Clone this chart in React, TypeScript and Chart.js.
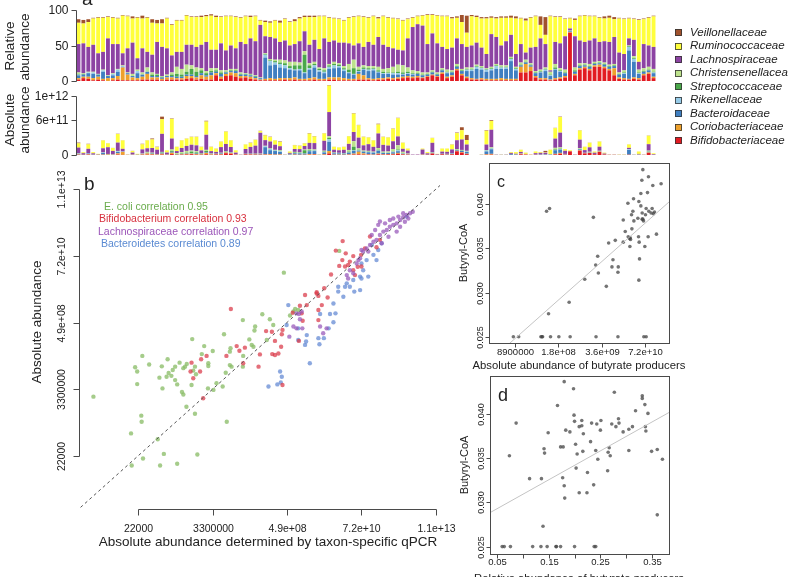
import { useEffect, useRef } from "react";
import { Chart, registerables } from "chart.js";

Chart.register(...registerables);

const PAGE_W = 788;
const PAGE_H = 577;
const FONT = '"Liberation Sans", Arial, Helvetica, sans-serif';
const INK = "#222222";
const AXIS = "#4a4a4a";

// ================= Panel a : family composition per sample =================
const familyNames = [
  "Bifidobacteriaceae",
  "Coriobacteriaceae",
  "Bacteroidaceae",
  "Rikenellaceae",
  "Streptococcaceae",
  "Christensenellaceae",
  "Lachnospiraceae",
  "Ruminococcaceae",
  "Veillonellaceae",
];
const familyColors = [
  "#e21b22",
  "#eea12c",
  "#3f7fc1",
  "#96cbe8",
  "#4aa84a",
  "#bde28c",
  "#8d43a3",
  "#ffff3c",
  "#a0522d",
];

// relative abundance (%) per sample
const bifidobacteriaceae = [
  2, 4, 3, 1, 2, 1, 0, 1, 2, 1,
  1, 1, 1, 2, 2, 2, 2, 1, 2, 2,
  2, 2, 3, 4, 2, 3, 2, 2, 8, 3,
  7, 8, 6, 4, 5, 3, 2, 1, 1, 1,
  1, 1, 2, 1, 2, 1, 1, 1, 2, 1,
  1, 2, 2, 1, 1, 1, 1, 2, 2, 2,
  1, 2, 2, 3, 2, 3, 4, 5, 4, 5,
  4, 6, 8, 6, 10, 4, 6, 15, 8, 4,
  2, 2, 2, 1, 1, 1, 1, 1, 1, 1,
  12, 12, 14, 5, 2, 2, 1, 2, 3, 5,
  68, 8, 16, 18, 15, 20, 20, 18, 15, 8,
  3, 2, 2, 3, 2, 8, 10, 4,
];
const coriobacteriaceae = [
  2, 2, 3, 3, 4, 2, 4, 3, 5, 18,
  8, 4, 3, 4, 8, 3, 3, 2, 3, 3,
  2, 2, 4, 3, 3, 5, 4, 6, 3, 3,
  3, 4, 5, 3, 2, 3, 2, 1, 2, 3,
  2, 3, 2, 3, 3, 2, 2, 3, 3, 2,
  2, 3, 3, 4, 3, 2, 2, 8, 6, 2,
  2, 2, 2, 2, 2, 2, 2, 2, 2, 2,
  1, 1, 1, 1, 2, 2, 2, 2, 2, 2,
  2, 1, 2, 2, 2, 2, 3, 2, 2, 2,
  8, 12, 6, 2, 2, 2, 1, 2, 2, 2,
  1, 2, 2, 2, 2, 2, 3, 2, 2, 10,
  2, 2, 1, 2, 2, 2, 2, 2,
];
const bacteroidaceae = [
  4, 3, 5, 6, 3, 10, 3, 4, 6, 1,
  2, 2, 7, 3, 3, 2, 2, 2, 2, 2,
  2, 2, 2, 2, 2, 3, 2, 4, 2, 4,
  2, 2, 3, 2, 2, 2, 2, 2, 30, 18,
  20, 15, 14, 12, 10, 12, 8, 12, 14, 10,
  8, 12, 13, 14, 10, 8, 6, 3, 8, 10,
  12, 8, 6, 5, 5, 4, 3, 3, 3, 3,
  3, 2, 3, 2, 3, 5, 4, 3, 4, 8,
  10, 14, 12, 10, 12, 14, 13, 14, 25, 12,
  2, 2, 2, 4, 8, 10, 5, 12, 8, 4,
  1, 3, 3, 2, 3, 2, 2, 3, 3, 3,
  4, 6, 40, 22, 6, 3, 3, 5,
];
const rikenellaceae = [
  1, 0, 1, 2, 0, 2, 0, 2, 3, 1,
  0, 0, 3, 0, 0, 0, 0, 0, 0, 0,
  0, 0, 0, 0, 0, 0, 0, 0, 0, 0,
  0, 0, 0, 0, 0, 0, 0, 0, 4, 6,
  3, 5, 4, 2, 1, 2, 1, 2, 3, 2,
  2, 3, 4, 2, 2, 1, 1, 1, 1, 2,
  2, 1, 1, 1, 2, 2, 1, 1, 1, 0,
  0, 0, 0, 0, 0, 1, 0, 0, 0, 2,
  2, 3, 2, 3, 2, 4, 2, 2, 3, 2,
  0, 0, 0, 0, 1, 2, 1, 1, 1, 0,
  0, 0, 0, 0, 0, 0, 0, 0, 0, 0,
  0, 1, 5, 4, 1, 0, 0, 1,
];
const streptococcaceae = [
  1, 1, 0, 0, 0, 0, 0, 0, 0, 0,
  0, 0, 0, 0, 0, 2, 2, 1, 0, 2,
  4, 3, 4, 8, 6, 4, 3, 2, 2, 2,
  1, 1, 1, 1, 1, 1, 1, 0, 1, 1,
  2, 2, 3, 3, 6, 5, 25, 4, 2, 2,
  2, 2, 2, 2, 2, 4, 8, 2, 2, 2,
  1, 2, 2, 1, 1, 2, 2, 2, 1, 1,
  1, 1, 1, 1, 1, 1, 1, 1, 1, 1,
  1, 1, 1, 1, 1, 1, 1, 1, 1, 1,
  1, 1, 1, 1, 1, 1, 1, 2, 1, 1,
  0, 2, 1, 1, 1, 1, 1, 1, 1, 1,
  1, 1, 1, 1, 1, 1, 1, 1,
];
const christensenellaceae = [
  2, 1, 1, 1, 1, 1, 1, 1, 1, 1,
  1, 3, 2, 3, 6, 3, 1, 1, 2, 3,
  10, 8, 10, 5, 6, 3, 3, 4, 3, 3,
  2, 2, 2, 2, 1, 1, 1, 1, 1, 2,
  2, 4, 4, 6, 5, 4, 5, 3, 3, 2,
  3, 2, 3, 2, 3, 8, 12, 4, 3, 3,
  3, 5, 4, 6, 8, 10, 10, 6, 4, 3,
  3, 2, 2, 2, 2, 3, 2, 3, 2, 2,
  2, 2, 2, 1, 2, 2, 2, 2, 2, 2,
  3, 3, 2, 2, 2, 2, 4, 5, 3, 4,
  1, 4, 3, 2, 3, 2, 2, 2, 2, 2,
  2, 3, 1, 3, 4, 4, 4, 4,
];
const lachnospiraceae = [
  40, 42, 35, 38, 29, 25, 52, 41, 35, 17,
  34, 44, 16, 34, 22, 25, 45, 41, 37, 24,
  21, 24, 28, 29, 29, 33, 41, 26, 26, 38,
  28, 33, 29, 43, 41, 50, 48, 74, 24, 31,
  30, 25, 28, 23, 25, 30, 28, 26, 31, 26,
  42, 31, 30, 29, 33, 29, 20, 33, 26, 34,
  30, 42, 34, 30, 26, 21, 21, 41, 61, 66,
  66, 40, 52, 41, 30, 29, 32, 36, 35, 29,
  31, 31, 26, 20, 46, 38, 28, 34, 31, 18,
  26, 10, 22, 34, 44, 33, 2, 31, 35, 47,
  3, 44, 32, 30, 33, 33, 27, 30, 32, 38,
  28, 23, 10, 23, 11, 34, 30, 31,
];
const ruminococcaceae = [
  30, 28, 35, 37, 50, 48, 30, 37, 36, 53,
  45, 34, 57, 42, 48, 45, 26, 33, 42, 43,
  44, 44, 41, 39, 42, 39, 36, 48, 46, 37,
  48, 41, 44, 34, 39, 30, 35, 6, 20, 20,
  25, 27, 30, 33, 32, 32, 20, 39, 32, 46,
  31, 34, 31, 33, 31, 36, 40, 38, 42, 34,
  40, 26, 40, 41, 42, 43, 42, 27, 13, 11,
  14, 41, 26, 39, 43, 46, 41, 29, 31, 20,
  41, 36, 41, 50, 23, 26, 39, 33, 24, 50,
  36, 45, 42, 43, 19, 13, 76, 35, 37, 24,
  14, 23, 34, 37, 34, 31, 34, 32, 34, 25,
  48, 49, 28, 29, 59, 35, 39, 43,
];
const veillonellaceae = [
  5, 5, 4, 1, 1, 1, 1, 1, 1, 1,
  1, 3, 1, 4, 1, 5, 5, 6, 1, 1,
  1, 1, 1, 1, 1, 2, 2, 2, 2, 1,
  1, 1, 1, 1, 1, 2, 1, 1, 2, 2,
  1, 3, 1, 1, 3, 2, 2, 2, 2, 1,
  1, 1, 1, 1, 1, 1, 1, 1, 1, 1,
  1, 2, 1, 1, 1, 1, 1, 1, 1, 1,
  1, 1, 1, 1, 1, 1, 2, 2, 10, 24,
  2, 2, 2, 2, 2, 2, 2, 2, 3, 3,
  1, 3, 1, 1, 12, 25, 1, 1, 1, 1,
  1, 2, 1, 1, 1, 1, 1, 3, 3, 3,
  1, 1, 1, 1, 1, 1, 1, 1,
];
// absolute abundance of the shown families per sample (x 1e11 cells)
const absoluteShownE11 = [
  2.1, 0.5, 1.9, 0.5, 0.2, 2.5, 2.0, 1.2, 3.6, 2.5,
  0.1, 0.7, 0.2, 1.9, 2.5, 2.8, 1.4, 6.5, 0.8, 6.2,
  1.4, 2.5, 2.8, 3.1, 3.1, 1.4, 5.8, 1.4, 1.1, 2.3,
  4.0, 2.5, 0.8, 0.1, 1.8, 2.1, 2.6, 4.1, 3.4, 3.1,
  2.5, 2.3, 0.1, 0.6, 1.7, 1.6, 2.0, 3.7, 3.2, 0.1,
  3.7, 11.9, 1.4, 1.3, 1.4, 3.2, 7.1, 5.1, 3.1, 3.0,
  2.5, 5.3, 3.1, 3.0, 4.5, 6.3, 2.1, 1.1, 0.1, 0.1,
  1.1, 0.5, 2.9, 0.2, 1.1, 1.1, 1.8, 3.8, 4.7, 3.4,
  0, 0, 0.1, 4.2, 5.9, 0.1, 0.1, 0.1, 0.5, 0.5,
  0.9, 0.4, 0.1, 0.6, 0.5, 0.7, 0.9, 4.6, 6.5, 1.0,
  0.8, 0.1, 4.2, 1.4, 2.1, 0.6, 2.3, 0.4, 0.1, 0.1,
  0.1, 0.1, 1.8, 0.1, 0.6, 0.1, 3.3, 0.3,
];
const relativeTicks = [0, 50, 100];
const relativeTickLabels = ["0", "50", "100"];
const absoluteTicks = [0, 6e11, 1e12];
const absoluteTickLabels = ["0", "6e+11", "1e+12"];

// ================= Panel b : sequencing-based vs qPCR (log10 units) =================
const qpcrTicks = [22000, 3300000, 4.9e8, 7.2e10, 1.1e13];
const qpcrTickLabels = ["22000", "3300000", "4.9e+08", "7.2e+10", "1.1e+13"];
const correlationLabels = [
  "E. coli correlation 0.95",
  "Bifidobacterium correlation 0.93",
  "Lachnospiraceae correlation 0.97",
  "Bacteroidetes correlation 0.89",
];
const ecoliLog = [
  [3.03, 6.27], [4.13, 5.07], [4.15, 4.02], [4.43, 5.65], [4.44, 5.45], [4.48, 4.25], [4.91, 4.88],
  [4.98, 4.02], [5.09, 4.4], [5.48, 4.08], [6.07, 4.38], [5.75, 5.94], [6.0, 5.71], [6.93, 5.45],
  [4.25, 7.23], [4.31, 7.09], [4.31, 6.68], [4.46, 7.6], [4.66, 7.32], [5.03, 7.26], [4.96, 6.89],
  [5.05, 6.54], [5.2, 7.49], [5.17, 6.92], [5.23, 7.04], [5.31, 6.95], [5.35, 7.14], [5.42, 7.25],
  [5.48, 6.67], [5.42, 6.81], [5.55, 7.38], [5.62, 6.42], [5.66, 6.34], [5.66, 7.2], [5.71, 7.25],
  [5.76, 7.34], [5.9, 6.65], [5.95, 7.12], [6.0, 7.25], [6.03, 7.0], [5.92, 8.15], [6.2, 7.66],
  [6.27, 7.92], [6.39, 7.36], [6.39, 7.27], [6.52, 7.76], [6.38, 6.54], [6.54, 6.49], [6.63, 6.71],
  [6.81, 6.6], [6.85, 8.31], [6.9, 7.05], [7.02, 7.3], [7.02, 7.74], [7.07, 7.25], [7.04, 7.85],
  [7.4, 8.77], [7.4, 7.25], [7.41, 7.6], [7.59, 8.14], [7.66, 7.96], [7.71, 7.9], [7.74, 8.43],
  [7.76, 8.56], [7.97, 8.96], [8.1, 8.12], [8.19, 8.8], [8.29, 8.61], [8.6, 10.32], [8.78, 8.92],
  [8.88, 9.05], [8.93, 9.13], [9.02, 9.1], [10.22, 11.03],
];
const bifidobacteriumLog = [
  [7.05, 9.13], [5.9, 7.38], [5.87, 7.09], [5.95, 6.87], [6.15, 7.09], [6.18, 7.49], [6.34, 7.6],
  [6.92, 7.6], [7.22, 7.92], [7.3, 7.77], [7.46, 7.87], [7.41, 7.36], [7.86, 7.25], [7.9, 7.65],
  [8.08, 8.41], [8.25, 8.39], [8.34, 8.09], [8.26, 7.66], [8.34, 7.63], [8.44, 7.68], [8.52, 7.9],
  [8.56, 6.65], [6.24, 6.22], [8.56, 8.45], [8.54, 8.31], [8.86, 9.01], [9.04, 8.09], [9.15, 8.75],
  [9.12, 8.99], [9.56, 9.68], [9.61, 9.56], [10.32, 11.35], [10.12, 11.04], [10.31, 10.73],
  [10.39, 10.52], [10.53, 10.68], [10.63, 10.4], [10.68, 10.24], [9.98, 10.26], [9.78, 9.81],
  [9.71, 9.26], [9.88, 9.51], [9.22, 9.59], [9.56, 9.64], [9.07, 9.24], [9.27, 9.26], [9.61, 8.77],
  [9.61, 9.1], [10.41, 10.95], [10.63, 10.86], [10.86, 10.9], [10.76, 10.51], [10.97, 11.11],
  [10.87, 10.52], [10.48, 10.57], [10.22, 10.54], [11.12, 11.5], [11.41, 11.39], [11.31, 11.15],
];
const lachnospiraceaeLog = [
  [8.97, 8.99], [9.04, 8.97], [9.12, 9.05], [9.07, 8.8], [8.76, 8.23], [8.88, 8.56], [8.97, 8.5],
  [9.14, 8.5], [9.75, 8.34], [9.85, 8.5], [9.66, 8.56], [10.48, 10.13], [10.63, 10.3], [10.73, 10.62],
  [10.83, 10.79], [10.92, 11.01], [11.02, 11.11], [11.12, 11.22], [11.22, 11.33], [11.31, 11.39],
  [11.41, 11.55], [11.51, 11.66], [11.61, 11.71], [11.7, 11.82], [11.8, 11.88], [11.9, 11.93],
  [12.0, 12.04], [12.09, 12.13], [12.19, 12.2], [12.29, 12.26], [12.37, 12.31], [11.27, 11.71],
  [11.36, 11.88], [11.56, 11.93], [11.7, 12.04], [11.8, 12.09], [12.0, 11.82], [11.9, 11.66],
  [11.66, 11.49], [11.46, 11.28], [11.07, 11.01], [10.87, 11.06], [10.78, 10.73], [10.53, 10.4],
  [10.44, 10.24], [12.14, 11.98], [12.24, 12.09], [11.41, 11.99], [12.09, 12.26], [11.95, 12.15],
  [11.17, 11.55],
];
const bacteroidetesLog = [
  [8.73, 9.26], [8.68, 8.61], [9.02, 8.5], [9.02, 8.12], [9.25, 8.07], [9.27, 8.28], [9.22, 7.96],
  [9.36, 7.36], [9.61, 8.18], [9.77, 8.18], [9.64, 7.98], [9.91, 8.5], [10.05, 8.7], [10.11, 8.99],
  [9.95, 8.97], [9.66, 8.97], [10.05, 9.31], [10.19, 9.7], [10.19, 9.86], [10.39, 9.86], [10.44, 9.97],
  [10.63, 10.08], [10.66, 9.7], [10.83, 10.19], [10.92, 10.4], [10.87, 10.62], [11.02, 10.73],
  [11.22, 10.9], [11.31, 10.73], [11.36, 11.06], [11.46, 11.28], [11.17, 11.22], [10.83, 9.75],
  [10.87, 10.13], [11.07, 10.19], [10.34, 9.53], [10.53, 9.86], [8.49, 7.09], [8.54, 6.92],
  [8.51, 6.73], [8.15, 6.6], [8.41, 6.67], [12.19, 12.15],
];

// ================= Panel c : butyryl-CoA vs absolute butyrate producers =================
const cLogAbundanceVsButyryl = [
  [10.8, 0.0439], [10.97, 0.0431], [10.77, 0.0427], [11.35, 0.0423], [11.1, 0.0421], [10.94, 0.0413],
  [10.74, 0.0412], [10.52, 0.0406], [10.35, 0.0401], [10.68, 0.0403], [10.74, 0.0398], [10.9, 0.0395],
  [11.08, 0.0395], [10.98, 0.0392], [11.05, 0.039], [11.15, 0.0391], [10.5, 0.0392], [10.46, 0.0388],
  [10.78, 0.039], [10.88, 0.0388], [11.12, 0.0389], [10.65, 0.0384], [10.78, 0.0383], [10.82, 0.0381],
  [10.8, 0.0383], [10.53, 0.0381], [10.21, 0.0382], [9.31, 0.0385], [7.9, 0.0392], [7.99, 0.0395],
  [10.27, 0.0369], [10.47, 0.0372], [10.4, 0.0361], [10.42, 0.0362], [10.36, 0.0363], [10.43, 0.036],
  [10.21, 0.0357], [9.97, 0.0359], [9.77, 0.0356], [10.67, 0.0363], [10.69, 0.0357], [10.96, 0.0363],
  [11.21, 0.0366], [10.41, 0.0352], [10.86, 0.0352], [10.7, 0.0338], [9.44, 0.0341], [9.38, 0.0331],
  [9.46, 0.0322], [9.9, 0.0337], [9.87, 0.0329], [10.06, 0.0329], [10.05, 0.0323], [9.05, 0.0315],
  [9.7, 0.0307], [10.68, 0.0314], [8.58, 0.0289], [7.96, 0.0276], [6.9, 0.025], [7.06, 0.025],
  [7.73, 0.025], [7.76, 0.025], [7.78, 0.025], [8.02, 0.025], [8.27, 0.025], [8.61, 0.025],
  [9.39, 0.025], [10.05, 0.025], [10.83, 0.025], [10.9, 0.025],
];
const cTicksX = [8.9e6, 1.8e8, 3.6e9, 7.2e10];
const cTickLabelsX = ["8900000", "1.8e+08", "3.6e+09", "7.2e+10"];
const cFit = [0.001653, 0.00333]; // intercept, slope per log10 unit

// ================= Panel d : butyryl-CoA vs relative butyrate producers =================
const dRelativeVsButyryl = [
  [0.18, 0.0437], [0.198, 0.0429], [0.277, 0.0425], [0.331, 0.0421], [0.331, 0.0418], [0.167, 0.041],
  [0.336, 0.0411], [0.318, 0.0404], [0.342, 0.0401], [0.199, 0.0399], [0.087, 0.039], [0.2, 0.0392],
  [0.214, 0.0393], [0.233, 0.039], [0.243, 0.0389], [0.251, 0.0393], [0.272, 0.0389], [0.28, 0.0386],
  [0.285, 0.0395], [0.286, 0.039], [0.209, 0.0386], [0.214, 0.0387], [0.312, 0.0386], [0.305, 0.0383],
  [0.337, 0.0386], [0.338, 0.0381], [0.294, 0.038], [0.149, 0.0379], [0.183, 0.0382], [0.191, 0.038],
  [0.217, 0.0378], [0.25, 0.0382], [0.231, 0.0369], [0.202, 0.0366], [0.173, 0.0363], [0.178, 0.0363],
  [0.141, 0.0361], [0.142, 0.0356], [0.074, 0.0353], [0.205, 0.0355], [0.216, 0.0358], [0.241, 0.0359],
  [0.265, 0.0357], [0.267, 0.0362], [0.269, 0.0353], [0.245, 0.0349], [0.305, 0.0359], [0.349, 0.0358],
  [0.36, 0.036], [0.37, 0.0349], [0.203, 0.0339], [0.225, 0.0334], [0.264, 0.0336], [0.113, 0.0327],
  [0.136, 0.0327], [0.177, 0.0328], [0.18, 0.0319], [0.237, 0.032], [0.209, 0.0311], [0.224, 0.0311],
  [0.181, 0.0305], [0.139, 0.0273], [0.36, 0.0286], [0.06, 0.025], [0.064, 0.025], [0.076, 0.025],
  [0.119, 0.025], [0.135, 0.025], [0.147, 0.025], [0.164, 0.025], [0.165, 0.025], [0.173, 0.025],
  [0.2, 0.025], [0.238, 0.025], [0.241, 0.025],
];
const dTicksX = [0.05, 0.1, 0.15, 0.2, 0.25, 0.3, 0.35];
const dTickLabelsX = ["0.05", "", "0.15", "", "0.25", "", "0.35"];
const dFit = [0.02765, 0.0328]; // intercept, slope

const butyrylTicks = [0.025, 0.03, 0.035, 0.04];
const butyrylTickLabels = ["0.025", "0.030", "0.035", "0.040"];

// ---------------- helpers ----------------
type AxisSpec = {
  scale: string;
  side: "left" | "bottom";
  ticks: number[];
  labels: string[];
  font: string;
  tickLen: number;
  gap: number;
  rotate?: boolean;
};

function rAxes(axes: AxisSpec[], box: boolean) {
  return {
    id: "rAxes",
    afterDraw(chart: any) {
      const ctx = chart.ctx as CanvasRenderingContext2D;
      const ca = chart.chartArea;
      ctx.save();
      ctx.strokeStyle = AXIS;
      ctx.fillStyle = INK;
      ctx.lineWidth = 1;
      if (box) {
        ctx.strokeRect(Math.round(ca.left) + 0.5, Math.round(ca.top) + 0.5, Math.round(ca.right - ca.left), Math.round(ca.bottom - ca.top));
      }
      for (const ax of axes) {
        const s = chart.scales[ax.scale];
        const ps = ax.ticks.map((v) => Math.round(s.getPixelForValue(v)) + 0.5);
        ctx.font = ax.font;
        ctx.beginPath();
        if (ax.side === "left") {
          const x = Math.round(ca.left) + 0.5;
          if (!box) {
            ctx.moveTo(x, ps[0]);
            ctx.lineTo(x, ps[ps.length - 1]);
          }
          ps.forEach((p) => {
            ctx.moveTo(x, p);
            ctx.lineTo(x - ax.tickLen, p);
          });
          ctx.stroke();
          ps.forEach((p, i) => {
            const t = ax.labels[i];
            if (!t) return;
            if (ax.rotate) {
              ctx.save();
              ctx.translate(x - ax.gap, p);
              ctx.rotate(-Math.PI / 2);
              ctx.textAlign = "center";
              ctx.textBaseline = "middle";
              ctx.fillText(t, 0, 0);
              ctx.restore();
            } else {
              ctx.textAlign = "right";
              ctx.textBaseline = "middle";
              ctx.fillText(t, x - ax.gap, p);
            }
          });
        } else {
          const y = Math.round(ca.bottom) + 0.5;
          if (!box) {
            ctx.moveTo(ps[0], y);
            ctx.lineTo(ps[ps.length - 1], y);
          }
          ps.forEach((p) => {
            ctx.moveTo(p, y);
            ctx.lineTo(p, y + ax.tickLen);
          });
          ctx.stroke();
          ps.forEach((p, i) => {
            const t = ax.labels[i];
            if (!t) return;
            ctx.textAlign = "center";
            ctx.textBaseline = "middle";
            ctx.fillText(t, p, y + ax.gap);
          });
        }
      }
      ctx.restore();
    },
  };
}

type Deco =
  | { kind: "text"; text: string; x: number; y: number; font: string; color?: string; rotate?: boolean; align?: CanvasTextAlign; baseline?: CanvasTextBaseline }
  | { kind: "rect"; x: number; y: number; w: number; h: number; fill: string };

function decor(items: Deco[]) {
  return {
    id: "decor",
    afterDraw(chart: any) {
      const ctx = chart.ctx as CanvasRenderingContext2D;
      ctx.save();
      for (const it of items) {
        if (it.kind === "rect") {
          ctx.fillStyle = it.fill;
          ctx.fillRect(it.x, it.y, it.w, it.h);
          ctx.strokeStyle = "#333";
          ctx.lineWidth = 0.8;
          ctx.strokeRect(it.x + 0.5, it.y + 0.5, it.w - 1, it.h - 1);
        } else {
          ctx.font = it.font;
          ctx.fillStyle = it.color || INK;
          ctx.textAlign = it.align || "center";
          ctx.textBaseline = it.baseline || "middle";
          if (it.rotate) {
            ctx.save();
            ctx.translate(it.x, it.y);
            ctx.rotate(-Math.PI / 2);
            ctx.fillText(it.text, 0, 0);
            ctx.restore();
          } else {
            ctx.fillText(it.text, it.x, it.y);
          }
        }
      }
      ctx.restore();
    },
  };
}

const pad = (left: number, top: number, right: number, bottom: number) => ({
  left,
  top,
  right: PAGE_W - right,
  bottom: PAGE_H - bottom,
});

const baseOptions = (padding: any) => ({
  responsive: false,
  animation: false as const,
  events: [] as any[],
  layout: { padding },
  plugins: { legend: { display: false }, tooltip: { enabled: false }, title: { display: false } },
});

const relativeRows = [
  bifidobacteriaceae,
  coriobacteriaceae,
  bacteroidaceae,
  rikenellaceae,
  streptococcaceae,
  christensenellaceae,
  lachnospiraceae,
  ruminococcaceae,
  veillonellaceae,
];
const sampleIds = bifidobacteriaceae.map((_, i) => `S${i + 1}`);
const shownSums = sampleIds.map((_, i) => relativeRows.reduce((a, r) => a + r[i], 0));

const toPoints = (arr: number[][]) => arr.map(([lx, ly]) => ({ x: 10 ** lx, y: 10 ** ly }));

function relativeConfig(): any {
  return {
    type: "bar",
    data: {
      labels: sampleIds,
      datasets: familyNames.map((name, k) => ({
        label: name,
        data: relativeRows[k],
        backgroundColor: familyColors[k],
        borderWidth: 0,
        barPercentage: 0.78,
        categoryPercentage: 1,
      })),
    },
    options: {
      ...baseOptions(pad(76, 10, 656, 81)),
      scales: {
        x: { stacked: true, display: false },
        y: { stacked: true, display: false, min: 0, max: 100, bounds: "data" },
      },
    },
    plugins: [
      rAxes([{ scale: "y", side: "left", ticks: relativeTicks, labels: relativeTickLabels, font: `12px ${FONT}`, tickLen: 5, gap: 8 }], false),
      decor([
        { kind: "text", text: "a", x: 82, y: 5, font: `19px ${FONT}`, align: "left", baseline: "alphabetic" },
        { kind: "text", text: "Relative", x: 10, y: 46, font: `13.5px ${FONT}`, rotate: true },
        { kind: "text", text: "abundance", x: 25, y: 47, font: `13.5px ${FONT}`, rotate: true },
        { kind: "text", text: "Absolute", x: 10, y: 120, font: `13.5px ${FONT}`, rotate: true },
        { kind: "text", text: "abundance", x: 25, y: 120, font: `13.5px ${FONT}`, rotate: true },
        ...familyNames
          .map((_, k) => familyNames.length - 1 - k)
          .flatMap((k, j): Deco[] => [
            { kind: "rect", x: 675, y: Math.round(29 + 13.5 * j), w: 7, h: 7, fill: familyColors[k] },
            {
              kind: "text",
              text: familyNames[k],
              x: 690,
              y: 32.5 + 13.5 * j,
              font: `italic 11.5px ${FONT}`,
              align: "left",
            },
          ]),
      ]),
    ],
  };
}

function absoluteConfig(): any {
  return {
    type: "bar",
    data: {
      labels: sampleIds,
      datasets: familyNames.map((name, k) => ({
        label: name,
        data: sampleIds.map((_, i) => (shownSums[i] > 0 ? (relativeRows[k][i] / shownSums[i]) * absoluteShownE11[i] * 1e11 : 0)),
        backgroundColor: familyColors[k],
        borderWidth: 0,
        barPercentage: 0.78,
        categoryPercentage: 1,
      })),
    },
    options: {
      ...baseOptions(pad(76, 85, 656, 155)),
      scales: {
        x: { stacked: true, display: false },
        y: { stacked: true, display: false, min: 0, max: 1.186e12, bounds: "data" },
      },
    },
    plugins: [
      rAxes([{ scale: "y", side: "left", ticks: absoluteTicks, labels: absoluteTickLabels, font: `12px ${FONT}`, tickLen: 5, gap: 8 }], false),
    ],
  };
}

function panelBConfig(): any {
  const pt = (color: string) => ({ backgroundColor: color, borderWidth: 0, pointRadius: 2.2, clip: false });
  return {
    type: "scatter",
    data: {
      datasets: [
        {
          label: "identity",
          data: [{ x: 1e2, y: 1e2 }, { x: 1e14, y: 1e14 }],
          showLine: true,
          borderColor: "#555",
          borderWidth: 1,
          borderDash: [3, 3],
          pointRadius: 0,
        },
        { label: "Lachnospiraceae", data: toPoints(lachnospiraceaeLog), ...pt("rgba(150,85,185,0.72)") },
        { label: "Bifidobacterium", data: toPoints(bifidobacteriumLog), ...pt("rgba(218,55,70,0.72)") },
        { label: "Bacteroidetes", data: toPoints(bacteroidetesLog), ...pt("rgba(95,135,210,0.72)") },
        { label: "E. coli", data: toPoints(ecoliLog), ...pt("rgba(140,190,105,0.78)") },
      ],
    },
    options: {
      ...baseOptions(pad(79, 183, 440, 509)),
      scales: {
        x: { type: "logarithmic", display: false, min: 10 ** 2.608, max: 10 ** 13.167, bounds: "data" },
        y: { type: "logarithmic", display: false, min: 10 ** 2.601, max: 10 ** 13.247, bounds: "data" },
      },
    },
    plugins: [
      rAxes(
        [
          { scale: "y", side: "left", ticks: qpcrTicks, labels: qpcrTickLabels, font: `10.5px ${FONT}`, tickLen: 6, gap: 17, rotate: true },
          { scale: "x", side: "bottom", ticks: qpcrTicks, labels: qpcrTickLabels, font: `10.5px ${FONT}`, tickLen: 6, gap: 20 },
        ],
        false
      ),
      decor([
        { kind: "text", text: "b", x: 84, y: 190, font: `19px ${FONT}`, align: "left", baseline: "alphabetic" },
        { kind: "text", text: correlationLabels[0], x: 104, y: 207, font: `10.5px ${FONT}`, align: "left", color: "#6aac4c" },
        { kind: "text", text: correlationLabels[1], x: 99, y: 219.5, font: `10.5px ${FONT}`, align: "left", color: "#d8303e" },
        { kind: "text", text: correlationLabels[2], x: 98, y: 232, font: `10.5px ${FONT}`, align: "left", color: "#9b55b8" },
        { kind: "text", text: correlationLabels[3], x: 101, y: 244.5, font: `10.5px ${FONT}`, align: "left", color: "#5a8ad2" },
        { kind: "text", text: "Absolute abundance", x: 37, y: 322, font: `13.5px ${FONT}`, rotate: true },
        { kind: "text", text: "Absolute abundance determined by taxon-specific qPCR", x: 268, y: 542, font: `13.5px ${FONT}` },
      ]),
    ],
  };
}

function panelCConfig(): any {
  return {
    type: "scatter",
    data: {
      datasets: [
        {
          label: "fit",
          data: [6, 12].map((lx) => ({ x: 10 ** lx, y: cFit[0] + cFit[1] * lx })),
          showLine: true,
          borderColor: "#c4c4c4",
          borderWidth: 1,
          pointRadius: 0,
        },
        {
          label: "samples",
          data: cLogAbundanceVsButyryl.map(([lx, y]) => ({ x: 10 ** lx, y })),
          backgroundColor: "rgba(70,70,70,0.75)",
          borderWidth: 0,
          pointRadius: 1.8,
          clip: false,
        },
      ],
    },
    options: {
      ...baseOptions(pad(489, 163, 669, 343)),
      scales: {
        x: { type: "logarithmic", display: false, min: 10 ** 6.166, max: 10 ** 11.588, bounds: "data" },
        y: { type: "linear", display: false, min: 0.02429, max: 0.04465, bounds: "data" },
      },
    },
    plugins: [
      rAxes(
        [
          { scale: "y", side: "left", ticks: butyrylTicks, labels: butyrylTickLabels, font: `9px ${FONT}`, tickLen: 4, gap: 9, rotate: true },
          { scale: "x", side: "bottom", ticks: cTicksX, labels: cTickLabelsX, font: `9.5px ${FONT}`, tickLen: 4, gap: 9 },
        ],
        true
      ),
      decor([
        { kind: "text", text: "c", x: 497, y: 187, font: `16px ${FONT}`, align: "left", baseline: "alphabetic" },
        { kind: "text", text: "Butyryl-CoA", x: 464, y: 253, font: `11px ${FONT}`, rotate: true },
        { kind: "text", text: "Absolute abundance of butyrate producers", x: 579, y: 366, font: `11.3px ${FONT}` },
      ]),
    ],
  };
}

function panelDConfig(): any {
  return {
    type: "scatter",
    data: {
      datasets: [
        {
          label: "fit",
          data: [0, 0.45].map((x) => ({ x, y: dFit[0] + dFit[1] * x })),
          showLine: true,
          borderColor: "#c4c4c4",
          borderWidth: 1,
          pointRadius: 0,
        },
        {
          label: "samples",
          data: dRelativeVsButyryl.map(([x, y]) => ({ x, y })),
          backgroundColor: "rgba(70,70,70,0.75)",
          borderWidth: 0,
          pointRadius: 1.8,
          clip: false,
        },
      ],
    },
    options: {
      ...baseOptions(pad(490, 376, 669, 554)),
      scales: {
        x: { type: "linear", display: false, min: 0.03646, max: 0.3827, bounds: "data" },
        y: { type: "linear", display: false, min: 0.02416, max: 0.04434, bounds: "data" },
      },
    },
    plugins: [
      rAxes(
        [
          { scale: "y", side: "left", ticks: butyrylTicks, labels: butyrylTickLabels, font: `9px ${FONT}`, tickLen: 4, gap: 9, rotate: true },
          { scale: "x", side: "bottom", ticks: dTicksX, labels: dTickLabelsX, font: `9.5px ${FONT}`, tickLen: 4, gap: 8 },
        ],
        true
      ),
      decor([
        { kind: "text", text: "d", x: 498, y: 401, font: `18px ${FONT}`, align: "left", baseline: "alphabetic" },
        { kind: "text", text: "Butyryl-CoA", x: 465, y: 465, font: `11px ${FONT}`, rotate: true },
        { kind: "text", text: "Relative abundance of butyrate producers", x: 579, y: 579, font: `11.3px ${FONT}` },
      ]),
    ],
  };
}

export default function App() {
  const r0 = useRef<HTMLCanvasElement>(null);
  const r1 = useRef<HTMLCanvasElement>(null);
  const r2 = useRef<HTMLCanvasElement>(null);
  const r3 = useRef<HTMLCanvasElement>(null);
  const r4 = useRef<HTMLCanvasElement>(null);
  const refs = [r0, r1, r2, r3, r4];

  useEffect(() => {
    const configs = [relativeConfig(), absoluteConfig(), panelBConfig(), panelCConfig(), panelDConfig()];
    const charts = configs.map((cfg, i) => new Chart(refs[i].current as HTMLCanvasElement, cfg));
    return () => charts.forEach((c) => c.destroy());
  }, []);

  return (
    <div
      style={{
        position: "absolute",
        left: 0,
        top: 0,
        width: PAGE_W,
        height: PAGE_H,
        background: "#ffffff",
        overflow: "hidden",
      }}
    >
      {refs.map((r, i) => (
        <canvas
          key={i}
          ref={r}
          width={PAGE_W}
          height={PAGE_H}
          style={{ position: "absolute", left: 0, top: 0, width: PAGE_W, height: PAGE_H }}
        />
      ))}
    </div>
  );
}
